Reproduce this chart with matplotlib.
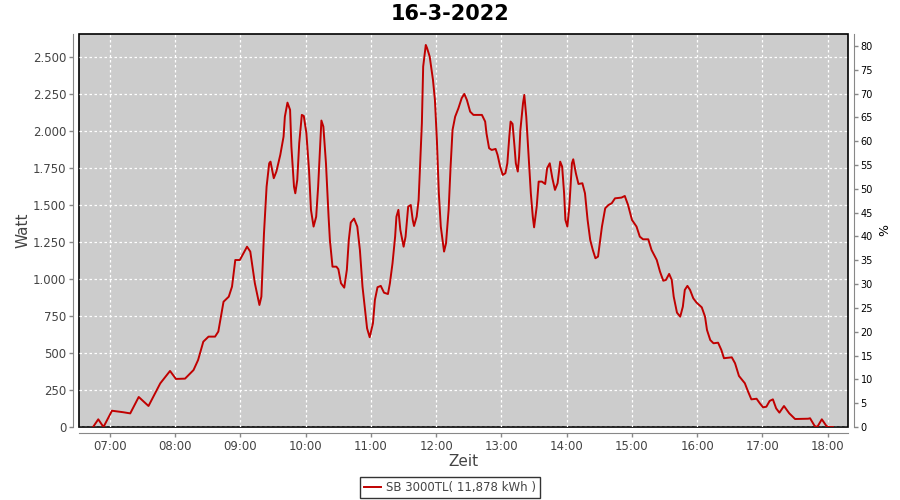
import matplotlib.pyplot as plt
from matplotlib.ticker import FuncFormatter, FixedLocator

# ==================================
# DATA
# ==================================
hours = [6.74, 6.82, 6.90, 7.03, 7.20, 7.31, 7.44, 7.59, 7.77, 7.92,
         8.01, 8.15, 8.28, 8.35, 8.43, 8.51, 8.61, 8.66, 8.74, 8.82,
         8.87, 8.92, 8.99, 9.10, 9.15, 9.22, 9.29, 9.32, 9.36, 9.40,
         9.44, 9.46, 9.51, 9.55, 9.61, 9.66, 9.68, 9.72, 9.76, 9.78,
         9.82, 9.84, 9.87, 9.90, 9.94, 9.97, 10.01, 10.05, 10.08, 10.12,
         10.16, 10.19, 10.22, 10.24, 10.27, 10.31, 10.35, 10.37, 10.41, 10.47,
         10.50, 10.54, 10.59, 10.63, 10.66, 10.69, 10.74, 10.79, 10.83, 10.87,
         10.91, 10.94, 10.98, 11.03, 11.06, 11.10, 11.15, 11.20, 11.26, 11.29,
         11.33, 11.37, 11.39, 11.42, 11.45, 11.50, 11.53, 11.57, 11.61, 11.64,
         11.66, 11.70, 11.73, 11.75, 11.78, 11.80, 11.84, 11.86, 11.90, 11.95,
         11.98, 12.01, 12.04, 12.07, 12.12, 12.15, 12.19, 12.22, 12.25, 12.29,
         12.34, 12.39, 12.43, 12.47, 12.52, 12.57, 12.70, 12.75, 12.77, 12.81,
         12.85, 12.91, 12.94, 12.98, 13.02, 13.06, 13.09, 13.12, 13.14, 13.17,
         13.20, 13.22, 13.25, 13.27, 13.29, 13.33, 13.35, 13.38, 13.41, 13.45,
         13.48, 13.50, 13.54, 13.57, 13.62, 13.67, 13.70, 13.74, 13.78, 13.82,
         13.86, 13.90, 13.93, 13.96, 13.98, 14.01, 14.04, 14.08, 14.10, 14.14,
         14.18, 14.24, 14.28, 14.32, 14.36, 14.40, 14.44, 14.48, 14.54, 14.59,
         14.64, 14.69, 14.74, 14.84, 14.89, 14.94, 15.00, 15.07, 15.12, 15.17,
         15.25, 15.30, 15.38, 15.43, 15.48, 15.52, 15.57, 15.61, 15.64, 15.69,
         15.74, 15.78, 15.81, 15.85, 15.89, 15.94, 15.99, 16.07, 16.12, 16.15,
         16.20, 16.25, 16.32, 16.37, 16.41, 16.53, 16.58, 16.64, 16.73, 16.78,
         16.83, 16.91, 16.96, 17.01, 17.06, 17.11, 17.16, 17.21, 17.26, 17.33,
         17.41, 17.50, 17.70, 17.73, 17.80, 17.84, 17.91, 17.98, 18.01, 18.08]

watt = [0, 52, 0, 110, 100, 92, 203, 142, 295, 379,
        325, 327, 385, 453, 577, 611, 611, 645, 847, 881,
        949, 1129, 1129, 1219, 1186, 972, 825, 881, 1310, 1625,
        1783, 1794, 1682, 1727, 1840, 1963, 2098, 2193, 2144, 1896,
        1625, 1580, 1670, 1919, 2110, 2103, 1986, 1738, 1468, 1355,
        1422, 1625, 1896, 2072, 2031, 1783, 1422, 1265, 1084, 1084,
        1067, 972, 942, 1062, 1265, 1382, 1409, 1355, 1197, 949,
        791, 667, 607, 701, 859, 945, 954, 908, 899, 972,
        1107, 1287, 1422, 1468, 1332, 1219, 1287, 1490, 1501, 1400,
        1359, 1422, 1535, 1738, 2054, 2437, 2583, 2561, 2504, 2347,
        2211, 1941, 1580, 1355, 1186, 1242, 1468, 1760, 2008, 2098,
        2155, 2223, 2252, 2211, 2132, 2110, 2110, 2065, 1986, 1885,
        1873, 1880, 1840, 1760, 1704, 1716, 1783, 1963, 2065, 2049,
        1896, 1783, 1727, 1828, 2008, 2189, 2245, 2098, 1873, 1580,
        1422, 1350, 1490, 1659, 1659, 1643, 1750, 1783, 1682, 1603,
        1648, 1794, 1760, 1580, 1400, 1355, 1490, 1783, 1810, 1716,
        1643, 1648, 1580, 1400, 1265, 1197, 1141, 1152, 1355, 1479,
        1501, 1513, 1546, 1551, 1562, 1501, 1400, 1355, 1287, 1269,
        1269, 1197, 1129, 1050, 989, 994, 1035, 994, 881, 773,
        746, 814, 927, 954, 927, 870, 841, 809, 746, 656,
        588, 566, 570, 521, 465, 471, 431, 345, 296, 239,
        187, 191, 160, 133, 137, 176, 187, 126, 97, 142,
        93, 54, 56, 59, 7, 0, 52, 7, 0, 0]

hour_ticks = list(range(7, 19))
watt_ticks = list(range(0, 2501, 250))
pct_ticks = list(range(0, 81, 5))

title = "16-3-2022"
series_label = "SB 3000TL( 11,878 kWh )"

# ==================================
# FIGURE
# ==================================
fig = plt.figure(figsize=(9, 5), dpi=100)
ax = fig.add_axes([0.0878, 0.146, 0.8544, 0.786])
ax.set_facecolor("#cccccc")
ax.patch.set_edgecolor("black")
ax.patch.set_linewidth(1.2)

ax.plot(hours, watt, color="#c00000", linewidth=1.4, label=series_label,
        zorder=3)

ax.set_xlim(6.525, 18.311)
ax.set_ylim(0, 2657)

ax.xaxis.set_major_locator(FixedLocator(hour_ticks))
ax.xaxis.set_major_formatter(FuncFormatter(lambda v, p: "%02d:00" % int(round(v))))
ax.yaxis.set_major_locator(FixedLocator(watt_ticks))
ax.yaxis.set_major_formatter(FuncFormatter(lambda v, p: f"{v:,.0f}".replace(",", ".")))

ax.grid(True, color="white", linestyle=(0, (2, 2)), linewidth=0.9)
ax.set_axisbelow(False)

for side in ["top", "right"]:
    ax.spines[side].set_visible(False)
for side in ["left", "bottom"]:
    ax.spines[side].set_position(("outward", 4))
    ax.spines[side].set_color("#888888")

ax.tick_params(axis="both", colors="#888888", labelcolor="#444444",
               labelsize=8.5, length=3, width=1, pad=2)

ax.set_xlabel("Zeit", fontsize=11, color="#444444", labelpad=1)
ax.set_ylabel("Watt", fontsize=11, color="#444444", labelpad=2)

# ==================================
# RIGHT AXIS (%)
# ==================================
ax2 = ax.twinx()
ax2.set_ylim(0, 2657 / 32.2)
ax2.yaxis.set_major_locator(FixedLocator(pct_ticks))
for side in ["top", "left", "bottom"]:
    ax2.spines[side].set_visible(False)
ax2.spines["right"].set_position(("outward", 4))
ax2.spines["right"].set_color("#888888")
ax2.tick_params(axis="y", colors="#888888", labelcolor="black",
                labelsize=7, length=3, width=1, pad=2)
ax2.set_ylabel("%", fontsize=9, color="black", labelpad=4)

# ==================================
# TITLE + LEGEND
# ==================================
fig.text(0.5, 0.972, title, ha="center", va="center",
         fontsize=15, fontweight="bold", color="black")

leg = fig.legend(loc="lower center", bbox_to_anchor=(0.5, -0.008),
                 fontsize=8.5, frameon=True, fancybox=False,
                 borderpad=0.35, handlelength=1.5, handletextpad=0.4)
leg.get_frame().set_edgecolor("black")
leg.get_frame().set_linewidth(1)
for t in leg.get_texts():
    t.set_color("#444444")

plt.savefig("out.png", dpi=100)
